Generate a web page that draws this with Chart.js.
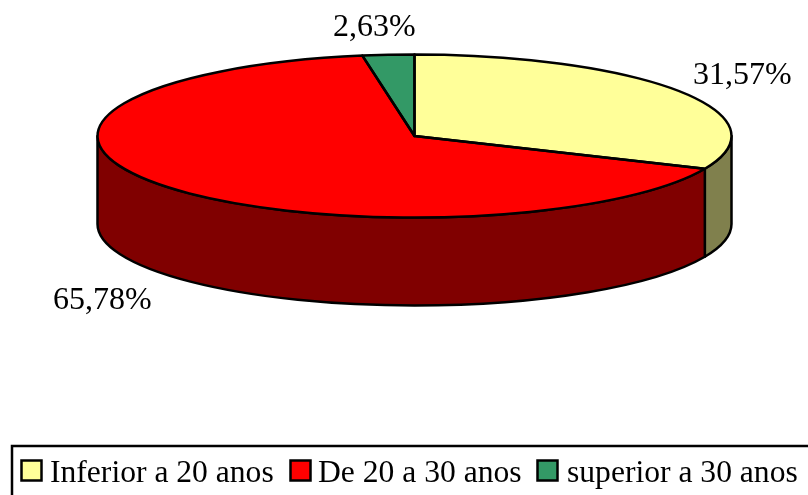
<!DOCTYPE html>
<html>
<head>
<meta charset="utf-8">
<style>
  html, body { margin: 0; padding: 0; background: #fff; overflow: hidden; }
  canvas { display: block; }
</style>
<script src="https://cdn.jsdelivr.net/npm/chart.js@4/dist/chart.umd.js"></script>
</head>
<body>
<canvas id="chart" width="808" height="495"></canvas>
<script>
const categories = ['Inferior a 20 anos', 'De 20 a 30 anos', 'superior a 30 anos'];
const shares = [31.57, 65.78, 2.63];
const topColors = ['#FFFF99', '#FF0000', '#339966'];
const sideColors = ['#80804D', '#800000', '#1A4D33'];

// where the flattened pie sits on the page
const pieX = 414.5, pieY = 136, pieRx = 317, pieRy = 81.5, pieDepth = 88;
const labelSpots = [[693, 84], [53, 309], [333, 36]];
const legendSpots = [[21.5, 50], [290.5, 318], [537.5, 567]];
const serif = '"Liberation Serif", "Times New Roman", serif';

const tiltedPie = {
  id: 'tiltedPie',
  beforeDatasetsDraw(chart) {
    const ctx = chart.ctx;
    const arcs = chart.getDatasetMeta(0).data;
    ctx.save();
    ctx.lineWidth = 2.5;
    ctx.lineJoin = 'round';
    ctx.strokeStyle = '#000';
    arcs.forEach((arc, i) => {
      const from = Math.max(arc.startAngle, 0);
      const to = Math.min(arc.endAngle, Math.PI);
      if (from >= to) return;
      ctx.beginPath();
      ctx.ellipse(pieX, pieY, pieRx, pieRy, 0, from, to);
      ctx.ellipse(pieX, pieY + pieDepth, pieRx, pieRy, 0, to, from, true);
      ctx.closePath();
      ctx.fillStyle = sideColors[i];
      ctx.fill();
      ctx.stroke();
    });
    ctx.restore();

    // the library's arcs get drawn squashed from here on
    const first = arcs[0];
    ctx.save();
    ctx.translate(pieX, pieY);
    ctx.scale(pieRx / first.outerRadius, pieRy / first.outerRadius);
    ctx.translate(-first.x, -first.y);
  },
  afterDatasetsDraw(chart) {
    const ctx = chart.ctx;
    ctx.restore();
    ctx.save();
    ctx.lineWidth = 2.5;
    ctx.lineJoin = 'round';
    ctx.strokeStyle = '#000';
    chart.getDatasetMeta(0).data.forEach((arc) => {
      ctx.beginPath();
      ctx.moveTo(pieX, pieY);
      ctx.ellipse(pieX, pieY, pieRx, pieRy, 0, arc.startAngle, arc.endAngle);
      ctx.closePath();
      ctx.stroke();
    });
    ctx.restore();
  },
  afterDraw(chart) {
    const ctx = chart.ctx;
    ctx.save();
    ctx.fillStyle = '#000';
    ctx.textAlign = 'left';
    ctx.textBaseline = 'alphabetic';
    ctx.font = '32px ' + serif;
    shares.forEach((share, i) => {
      const text = share.toFixed(2).replace('.', ',') + '%';
      ctx.fillText(text, labelSpots[i][0], labelSpots[i][1]);
    });

    // legend frame runs off the right and bottom of the page
    ctx.strokeStyle = '#000';
    ctx.lineWidth = 2.5;
    ctx.strokeRect(12, 446, 820, 80);
    ctx.font = '31.6px ' + serif;
    categories.forEach((name, i) => {
      ctx.fillStyle = topColors[i];
      ctx.fillRect(legendSpots[i][0], 460.5, 20, 20);
      ctx.strokeRect(legendSpots[i][0], 460.5, 20, 20);
      ctx.fillStyle = '#000';
      ctx.fillText(name, legendSpots[i][1], 482);
    });
    ctx.restore();
  }
};

new Chart(document.getElementById('chart'), {
  type: 'pie',
  data: {
    labels: categories,
    datasets: [{
      data: shares,
      backgroundColor: topColors,
      borderWidth: 0
    }]
  },
  options: {
    responsive: false,
    animation: false,
    events: [],
    plugins: {
      legend: { display: false },
      tooltip: { enabled: false }
    }
  },
  plugins: [tiltedPie]
});
</script>
</body>
</html>
